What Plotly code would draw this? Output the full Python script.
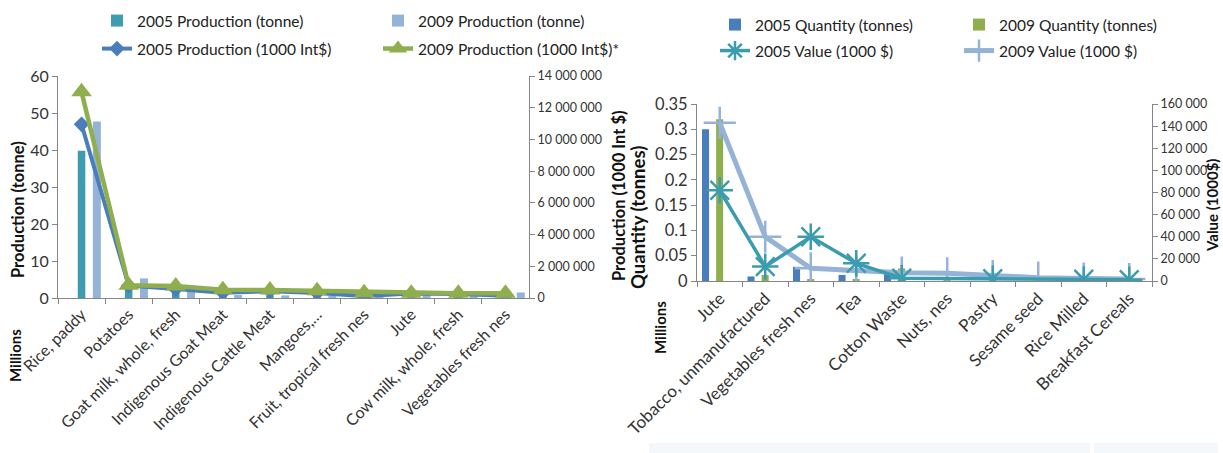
import plotly.graph_objects as go

# ---------------- data ----------------
cats_left = ["Rice, paddy", "Potatoes", "Goat milk, whole, fresh", "Indigenous Goat Meat",
             "Indigenous Cattle Meat", "Mangoes,…", "Fruit, tropical fresh nes", "Jute",
             "Cow milk, whole, fresh", "Vegetables fresh nes"]
prod2005_tonne = [39.8, 3.2, 1.5, 0.3, 0.4, 0.9, 0.6, 0.8, 0.8, 0.4]          # millions
prod2009_tonne = [47.7, 5.3, 2.3, 0.8, 0.7, 0.6, 0.5, 0.9, 0.8, 1.5]          # millions
prod2005_intd = [10950000, 780000, 560000, 330000, 430000, 320000, 120000, 280000, 250000, 140000]
prod2009_intd = [13000000, 800000, 750000, 520000, 500000, 450000, 330000, 300000, 300000, 300000]

cats_right = ["Jute", "Tobacco, unmanufactured", "Vegetables fresh nes", "Tea", "Cotton Waste",
              "Nuts, nes", "Pastry", "Sesame seed", "Rice Milled", "Breakfast Cereals"]
qty2005 = [0.30, 0.009, 0.028, 0.012, 0.014, 0.0, 0.0, 0.0, 0.0, 0.0]          # millions
qty2009 = [0.32, 0.012, 0.002, 0.002, 0.025, 0.007, 0.0, 0.0, 0.0, 0.0]        # millions
value2005 = [82000, 13000, 40000, 16000, 2500, None, 2000, None, 1500, 1200]
value2009 = [143000, 40000, 11500, 9000, 7500, 7000, 4500, 3000, 2200, 1800]

# ---------------- helpers ----------------
W, H = 1223, 453
def px(x):
    return x / W
def py(y):
    return 1 - y / H

FONT = "Lato"
TXT = "#333333"
AX = "#868686"

fig = go.Figure()

# left chart
fig.add_trace(go.Bar(x=cats_left, y=prod2005_tonne, name="2005 Production (tonne)",
                     marker=dict(color="#3F9BB0", line=dict(width=0)), offset=-0.08, width=0.16,
                     xaxis="x", yaxis="y", legend="legend"))
fig.add_trace(go.Bar(x=cats_left, y=prod2009_tonne, name="2009 Production (tonne)",
                     marker=dict(color="#95B3D7", line=dict(width=0)), offset=0.24, width=0.17,
                     xaxis="x", yaxis="y", legend="legend"))
fig.add_trace(go.Scatter(x=cats_left, y=prod2005_intd, name="2005 Production (1000 Int$)",
                         mode="lines+markers", line=dict(color="#4A7EBB", width=4),
                         marker=dict(symbol="diamond", size=12, color="#4A7EBB"),
                         xaxis="x", yaxis="y2", legend="legend2"))
fig.add_trace(go.Scatter(x=cats_left, y=prod2009_intd, name="2009 Production (1000 Int$)*",
                         mode="lines+markers", line=dict(color="#8FAF4F", width=4.5),
                         marker=dict(symbol="triangle-up", size=18, color="#8FAF4F"),
                         xaxis="x", yaxis="y2", legend="legend2"))

# right chart
fig.add_trace(go.Bar(x=cats_right, y=qty2005, name="2005 Quantity (tonnes)",
                     marker=dict(color="#4A7EBB", line=dict(width=0)), offset=-0.39, width=0.155,
                     xaxis="x2", yaxis="y3", legend="legend3"))
fig.add_trace(go.Bar(x=cats_right, y=qty2009, name="2009 Quantity (tonnes)",
                     marker=dict(color="#8FAF4F", line=dict(width=0)), offset=-0.08, width=0.155,
                     xaxis="x2", yaxis="y3", legend="legend3"))
fig.add_trace(go.Scatter(x=cats_right, y=value2009, name="2009 Value (1000 $)",
                         mode="lines+markers", line=dict(color="#95B3D7", width=5),
                         marker=dict(symbol="cross-thin", size=23, color="#95B3D7",
                                     line=dict(color="#95B3D7", width=2.5)),
                         xaxis="x2", yaxis="y4", legend="legend4", legendrank=2))
fig.add_trace(go.Scatter(x=cats_right, y=value2005, name="2005 Value (1000 $)",
                         mode="lines+markers", connectgaps=True,
                         line=dict(color="#3B9CB0", width=3.5),
                         marker=dict(symbol="asterisk", size=22, color="#3B9CB0",
                                     line=dict(color="#3B9CB0", width=2.5)),
                         xaxis="x2", yaxis="y4", legend="legend4", legendrank=1))

axis_common = dict(showline=True, linecolor=AX, linewidth=1, ticks="outside", ticklen=5,
                   tickcolor=AX, showgrid=False, zeroline=False, automargin=False,
                   tickfont=dict(family=FONT, color=TXT))

def legend_cfg(x, y, ew):
    return dict(x=px(x), y=py(y), orientation="h", entrywidthmode="pixels", entrywidth=ew,
                font=dict(family=FONT, size=15.5, color="#222222"),
                bgcolor="rgba(0,0,0,0)", xanchor="left", yanchor="middle",
                tracegroupgap=0, itemwidth=30, traceorder="normal")

fig.update_layout(
    width=W, height=H,
    margin=dict(l=0, r=0, t=0, b=0),
    paper_bgcolor="white", plot_bgcolor="white",
    separators=". ",
    barmode="overlay",
    font=dict(family=FONT, color=TXT),
    xaxis=dict(domain=[px(58), px(529)], anchor="y", type="category", range=[-0.5, 9.5],
               tickson="boundaries", tickangle=-45,
               **{**axis_common, "tickfont": dict(family=FONT, size=16, color=TXT)}),
    yaxis=dict(domain=[py(298), py(76)], anchor="x", range=[0, 60], dtick=10,
               **{**axis_common, "tickfont": dict(family=FONT, size=16, color=TXT)}),
    yaxis2=dict(overlaying="y", side="right", anchor="x", range=[0, 14000000], dtick=2000000,
                tickformat=",d",
                **{**axis_common, "tickfont": dict(family=FONT, size=12.5, color=TXT)}),
    xaxis2=dict(domain=[px(697), px(1152)], anchor="y3", type="category", range=[-0.5, 9.5],
                tickson="boundaries", tickangle=-45,
                **{**axis_common, "tickfont": dict(family=FONT, size=17, color=TXT)}),
    yaxis3=dict(domain=[py(281), py(104)], anchor="x2", range=[0, 0.35], dtick=0.05,
                **{**axis_common, "tickfont": dict(family=FONT, size=16.5, color=TXT)}),
    yaxis4=dict(overlaying="y3", side="right", anchor="x2", range=[0, 160000], dtick=20000,
                tickformat=",d",
                **{**axis_common, "tickfont": dict(family=FONT, size=12.5, color=TXT)}),
    legend=legend_cfg(97, 21, 236),
    legend2=legend_cfg(97, 49, 236),
    legend3=legend_cfg(715, 25, 199),
    legend4=legend_cfg(715, 51, 199),
    showlegend=True,
)

def title(text, x, y, size=15):
    fig.add_annotation(text="<b>" + text + "</b>", x=px(x), y=py(y), xref="paper", yref="paper",
                       textangle=-90, showarrow=False, xanchor="center", yanchor="middle",
                       font=dict(family=FONT, size=size, color="#111111"))

title("Production (tonne)", 18, 210, 16.5)
title("Millions", 15, 356, 15)
title("Production (1000 Int $)", 619, 196, 16.5)
title("Quantity (tonnes)", 638, 218, 18.5)
title("Millions", 660, 328, 15)
title("Value (1000$)", 1212, 206, 15)

# faint box at the bottom right of the original picture
fig.add_shape(type="rect", xref="paper", yref="paper", x0=px(649), x1=px(1090), y0=0, y1=py(443),
              fillcolor="#F5F8FA", line=dict(width=0), layer="below")
fig.add_shape(type="rect", xref="paper", yref="paper", x0=px(1094), x1=px(1218), y0=0, y1=py(443),
              fillcolor="#F5F8FA", line=dict(width=0), layer="below")

fig.write_html("out.html")
